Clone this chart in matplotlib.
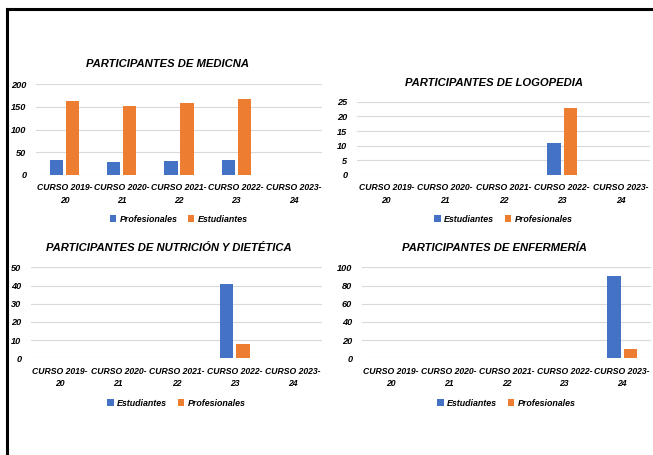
import numpy as np
import matplotlib
matplotlib.use('Agg')
import matplotlib.pyplot as plt
from matplotlib.lines import Line2D

plt.rcParams['font.family'] = ['Liberation Sans Narrow', 'Liberation Sans', 'DejaVu Sans']
plt.rcParams['font.weight'] = 'bold'
plt.rcParams['font.style'] = 'italic'

# %%
cursos = ['CURSO 2019-\n20', 'CURSO 2020-\n21', 'CURSO 2021-\n22', 'CURSO 2022-\n23', 'CURSO 2023-\n24']

medicina_prof = [34, 29, 31, 33, 0]
medicina_est = [163, 151, 159, 166, 0]

logopedia_est = [0, 0, 0, 11, 0]
logopedia_prof = [0, 0, 0, 23, 0]

nutricion_est = [0, 0, 0, 41, 0]
nutricion_prof = [0, 0, 0, 8, 0]

enfermeria_est = [0, 0, 0, 0, 90]
enfermeria_prof = [0, 0, 0, 0, 10]

BLUE = '#4472C4'
ORANGE = '#ED7D31'
W, H = 653, 455

panels = [
    # title, series1, series2, labels, ymax, step, axes box (px), title pos (px), legend y (px)
    ('PARTICIPANTES DE MEDICNA', medicina_prof, medicina_est, ('Profesionales', 'Estudiantes'),
     200, 50, (36, 322, 84, 175), (168, 64), 219),
    ('PARTICIPANTES DE LOGOPEDIA', logopedia_est, logopedia_prof, ('Estudiantes', 'Profesionales'),
     25, 5, (357, 650, 101.7, 175), (494, 83), 219),
    ('PARTICIPANTES DE NUTRICIÓN Y DIETÉTICA', nutricion_est, nutricion_prof, ('Estudiantes', 'Profesionales'),
     50, 10, (31, 322, 267.3, 358.3), (169, 248), 403),
    ('PARTICIPANTES DE ENFERMERÍA', enfermeria_est, enfermeria_prof, ('Estudiantes', 'Profesionales'),
     100, 20, (362, 651, 267.3, 358.3), (494.5, 248), 403),
]

fig = plt.figure(figsize=(W / 100, H / 100), dpi=100)

x = np.arange(len(cursos))
bw = 0.23
off = 0.14

for title, s1, s2, labels, ymax, step, box, tpos, ly in panels:
    x0, x1, ytop, ybot = box
    ax = fig.add_axes([x0 / W, 1 - ybot / H, (x1 - x0) / W, (ybot - ytop) / H])
    v1 = np.array(s1, dtype=float)
    v2 = np.array(s2, dtype=float)
    b1 = ax.bar(x - off, v1, width=bw, color=BLUE, label=labels[0], zorder=3)
    b2 = ax.bar(x + off, v2, width=bw, color=ORANGE, label=labels[1], zorder=3)
    ax.set_xlim(-0.5, len(cursos) - 0.5)
    ax.set_ylim(0, ymax)
    ax.set_yticks(np.arange(0, ymax + 1, step))
    ax.set_xticks(x)
    ax.set_xticklabels(cursos, fontsize=6.2, linespacing=1.55)
    ax.tick_params(axis='y', labelsize=6.6, length=0, pad=7)
    ax.tick_params(axis='x', length=0, pad=6)
    ax.grid(axis='y', color='#D9D9D9', linewidth=0.8, zorder=0)
    for s in ax.spines.values():
        s.set_visible(False)
    fig.text(tpos[0] / W, 1 - tpos[1] / H, title, ha='center', va='center', fontsize=8.1)
    fig.legend(handles=[b1, b2], loc='center', bbox_to_anchor=((x0 + x1) / 2 / W, 1 - ly / H),
               ncol=2, frameon=False, fontsize=6.4, handlelength=0.7, handleheight=0.7,
               handletextpad=0.4, columnspacing=1.2)

# outer border (top and left edges visible)
fig.add_artist(Line2D([7 / W, 1.0], [1 - 9 / H, 1 - 9 / H], color='black', lw=2.2))
fig.add_artist(Line2D([7 / W, 7 / W], [0, 1 - 9 / H], color='black', lw=2.2))

fig.savefig('out.png', dpi=100)
